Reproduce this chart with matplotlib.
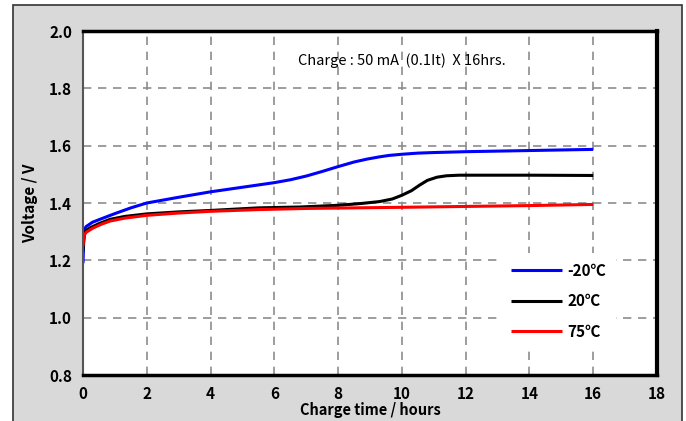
import matplotlib
matplotlib.use("Agg")
import matplotlib.pyplot as plt
from matplotlib.patches import Rectangle

plt.rcParams['font.family'] = ['Noto Sans CJK KR', 'DejaVu Sans']

# Data
t_m20 = [0.0, 0.02, 0.05, 0.1, 0.3, 0.6, 1.0, 1.5, 2.0, 3.0, 4.0, 5.0, 5.5, 6.0, 6.5, 7.0, 7.5,
         8.0, 8.5, 8.9, 9.3, 9.6, 10.0, 10.5, 11.0, 12.0, 14.0, 16.0]
v_m20 = [1.19, 1.26, 1.31, 1.318, 1.333, 1.346, 1.363, 1.383, 1.40, 1.42, 1.439, 1.455, 1.463,
         1.471, 1.481, 1.494, 1.510, 1.527, 1.543, 1.553, 1.561, 1.566, 1.570, 1.574, 1.576, 1.579, 1.583, 1.587]

t_20 = [0.0, 0.02, 0.05, 0.1, 0.25, 0.5, 0.85, 1.3, 2.0, 3.0, 4.0, 5.5, 6.8, 8.0, 8.7, 9.3, 9.7,
        10.0, 10.3, 10.55, 10.8, 11.1, 11.4, 11.8, 12.3, 14.0, 16.0]
v_20 = [1.23, 1.27, 1.295, 1.305, 1.315, 1.328, 1.343, 1.353, 1.362, 1.369, 1.374, 1.383, 1.386,
        1.392, 1.398, 1.405, 1.414, 1.427, 1.443, 1.462, 1.479, 1.490, 1.495, 1.497, 1.497, 1.497, 1.496]

t_75 = [0.0, 0.02, 0.05, 0.1, 0.32, 0.6, 0.85, 1.3, 2.0, 3.0, 4.0, 5.5, 7.0, 8.5, 10.0, 12.0, 14.0, 16.0]
v_75 = [1.25, 1.275, 1.29, 1.298, 1.313, 1.327, 1.337, 1.347, 1.357, 1.365, 1.371, 1.377, 1.381,
        1.383, 1.385, 1.388, 1.391, 1.395]

labels = ['-20\u2103', '20\u2103', '75\u2103']
colors = ['#0000ff', '#000000', '#ff0000']

x_ticks = [0, 2, 4, 6, 8, 10, 12, 14, 16, 18]
y_ticks = [0.8, 1.0, 1.2, 1.4, 1.6, 1.8, 2.0]
note = 'Charge : 50 mA  (0.1It)  X 16hrs.'

fig = plt.figure(figsize=(6.86, 4.21), dpi=100, facecolor='white')
fig.patches.append(Rectangle((13 / 686, -0.05), (682 - 13) / 686, 1.05 - 5 / 421,
                             transform=fig.transFigure, facecolor='#d9d9d9',
                             edgecolor='#333333', linewidth=1.2, zorder=-10))
ax = fig.add_axes([83 / 686, 1 - 375 / 421, (657 - 83) / 686, (375 - 31) / 421])
ax.set_facecolor('white')

for t, v, lab, c in zip([t_m20, t_20, t_75], [v_m20, v_20, v_75], labels, colors):
    ax.plot(t, v, color=c, lw=2.2, label=lab, solid_capstyle='butt', solid_joinstyle='round')

ax.set_xlim(0, 18)
ax.set_ylim(0.8, 2.0)
ax.set_xticks(x_ticks)
ax.set_yticks(y_ticks)
ax.set_xticklabels([str(x) for x in x_ticks])
ax.set_yticklabels(['%.1f' % y for y in y_ticks])
ax.tick_params(length=0, labelsize=11, pad=8)
for lbl in ax.get_xticklabels() + ax.get_yticklabels():
    lbl.set_fontweight('bold')

ax.grid(True, color='#8c8c8c', linestyle=(0, (5, 4)), linewidth=1.2)
ax.set_axisbelow(True)

ax.spines['left'].set_color('#555555')
ax.spines['left'].set_linewidth(1.5)
ax.spines['top'].set_color('black')
ax.spines['top'].set_linewidth(2.5)
ax.spines['right'].set_color('black')
ax.spines['right'].set_linewidth(3)
ax.spines['bottom'].set_color('black')
ax.spines['bottom'].set_linewidth(2.5)

ax.set_xlabel('Charge time / hours', fontsize=10.5, fontweight='bold', labelpad=0)
ax.set_ylabel('Voltage / V', fontsize=11, fontweight='bold', labelpad=8)

ax.text(6.74, 1.895, note, fontsize=10.5, va='center', ha='left')

leg = ax.legend(loc='center', bbox_to_anchor=(0.829, 0.215), frameon=True,
                handlelength=3.3, labelspacing=0.95, handletextpad=0.4,
                borderpad=0.6, fancybox=False, prop={'weight': 'bold', 'size': 11})
leg.get_frame().set_facecolor('white')
leg.get_frame().set_edgecolor('none')
leg.get_frame().set_alpha(1)

fig.savefig('out.png', dpi=100)
